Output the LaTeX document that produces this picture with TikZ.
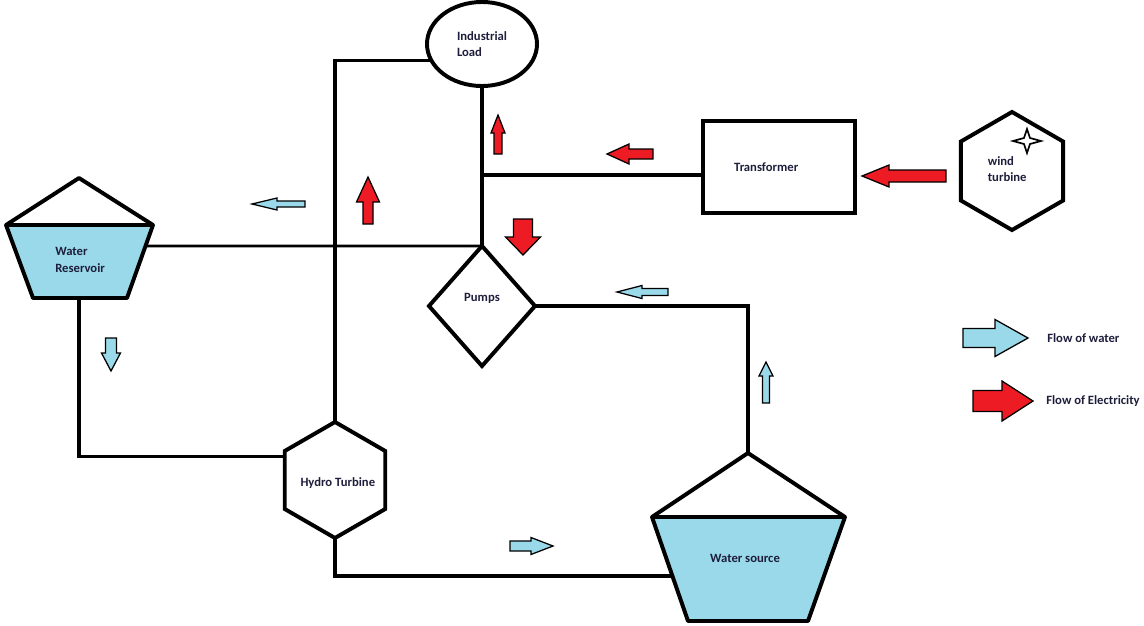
\documentclass[tikz,border=0pt]{standalone}
\usepackage{fontspec}
\setmainfont{Carlito}
\usetikzlibrary{shapes.geometric}

\definecolor{waterblue}{RGB}{153,217,234}
\definecolor{powerred}{RGB}{237,28,36}
\definecolor{inktext}{RGB}{30,30,60}

% block arrow: length / shaft half width / head half width / head length / colour
\tikzset{
  pics/flow/.style args={#1/#2/#3/#4/#5}{code={
    \filldraw[fill=#5, draw=black, line width=0.9pt, line join=miter]
      (0,-#2) -- ({#1-#4},-#2) -- ({#1-#4},-#3) -- (#1,0)
      -- ({#1-#4},#3) -- ({#1-#4},#2) -- (0,#2) -- cycle;
  }}
}

\begin{document}
\begin{tikzpicture}[x=0.025cm, y=-0.025cm,
  every node/.style={font=\fontsize{9}{11.5}\selectfont\bfseries, text=inktext},
  shapeline/.style={draw=black, line width=2.8pt, outer sep=0pt, inner sep=0pt},
  tank/.style={line width=2.8pt, line join=round},
  link/.style={line width=2.4pt},
  thinlink/.style={line width=1.8pt},
  caption/.style={inner sep=0pt, anchor=west, align=left}]
  \useasboundingbox (0,0) rectangle (1144,625);

  % water reservoir
  \filldraw[tank, fill=waterblue] (6,225) -- (153,225) -- (127,298) -- (33,298) -- cycle;
  \draw[tank] (6,225) -- (79,178) -- (153,225);
  \node[caption] (reservoir) at (55,260) {Water\\Reservoir};
  \coordinate (resR) at (146,246);
  \coordinate (resB) at (79,298);

  % water source
  \filldraw[tank, fill=waterblue] (652,517) -- (845,517) -- (808,621) -- (688,621) -- cycle;
  \draw[tank] (652,517) -- (748,453) -- (845,517);
  \node (source) at (745,558) {Water source};
  \coordinate (srcTop) at (748,453);
  \coordinate (srcL) at (673,576);

  % blocks
  \node[shapeline, ellipse, minimum width=2.75cm, minimum height=2.1cm, align=left]
    (load) at (482,44) {Industrial\\Load};
  \node[shapeline, rectangle, minimum width=3.8cm, minimum height=2.3cm,
    label={[xshift=-0.32cm]center:Transformer}] (trafo) at (779,167) {};
  \node[shapeline, diamond, minimum width=2.65cm, minimum height=3cm,
    label={[yshift=0.2cm]center:Pumps}] (pumps) at (482,306) {};
  \node[shapeline, regular polygon, regular polygon sides=6, shape border rotate=90,
    minimum size=2.9cm, label={[xshift=0.07cm,yshift=-0.07cm]center:Hydro Turbine}]
    (hydro) at (335,480) {};
  \node[shapeline, regular polygon, regular polygon sides=6, shape border rotate=90,
    minimum size=2.95cm, label={[align=left,xshift=-0.12cm,yshift=0.05cm]center:wind\\turbine}]
    (wind) at (1012,171) {};
  \draw[line width=1.2pt, fill=white] (1027,129) -- (1030,138) -- (1041,141) -- (1030,144)
    -- (1027,153) -- (1024,144) -- (1013,141) -- (1024,138) -- cycle;

  % connections
  \coordinate (jn) at (482,175);
  \draw[link] (load.198) -| (hydro.north);
  \draw[link] (load.south) -- (pumps.north);
  \draw[link] (jn) -- (jn -| trafo.west);
  \draw[thinlink] (resR) -- (pumps.north);
  \draw[link] (pumps.east) -| (srcTop);
  \draw[link] (resB) |- (hydro.155);
  \draw[link] (hydro.south) |- (srcL);

  % flow of water
  \pic[rotate=180] (wtop) at (305,204) {flow={53/3/6/25/waterblue}};
  \pic[rotate=270] (wdown) at (111,338) {flow={33/5.5/9.5/18/waterblue}};
  \pic[rotate=180] (wpump) at (668,292) {flow={51/3.5/6.5/25/waterblue}};
  \pic[rotate=90] (wup) at (766,403) {flow={41/3.5/7/14/waterblue}};
  \pic (wright) at (510,546) {flow={43/5/8.5/22/waterblue}};

  % flow of electricity
  \pic[rotate=90] (eup) at (368,224) {flow={47/5/11.5/25/powerred}};
  \pic[rotate=90] (eload) at (498,154) {flow={39/4/7/18/powerred}};
  \pic[rotate=180] (eleft) at (653,154) {flow={46/5/10/22/powerred}};
  \pic[rotate=270] (edown) at (523,219) {flow={36/9.5/17.5/18/powerred}};
  \pic[rotate=180] (ewind) at (946,176) {flow={84/6/11/27/powerred}};

  % legend
  \pic (legw) at (963,338) {flow={65/9.5/18.5/33/waterblue}};
  \pic (lege) at (973,401) {flow={60/10.5/20/31/powerred}};
  \node[caption] (legwater) at (1047,338) {Flow of water};
  \node[caption] (legpower) at (1046,401) {Flow of Electricity};
\end{tikzpicture}
\end{document}
